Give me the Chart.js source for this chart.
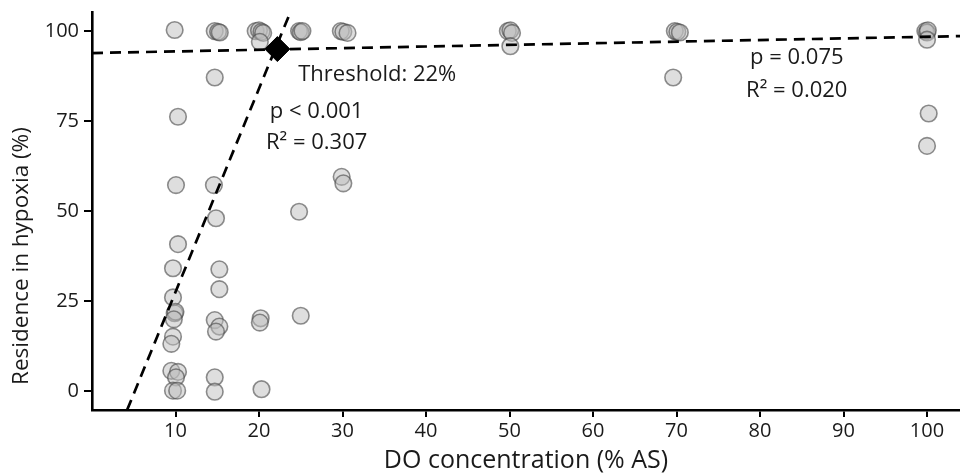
<!DOCTYPE html>
<html>
<head>
<meta charset="utf-8">
<script src="https://cdn.jsdelivr.net/npm/chart.js@4.4.1/dist/chart.umd.min.js"></script>
<style>
  html, body { margin: 0; padding: 0; background: #fff; }
  #wrap { width: 960px; height: 473px; position: relative; }
</style>
</head>
<body>
<div id="wrap"><canvas id="c" width="960" height="473"></canvas></div>
<script>
// ---- data ----
const xTicks = [10, 20, 30, 40, 50, 60, 70, 80, 90, 100];
const yTicks = [0, 25, 50, 75, 100];

// DO concentration (% AS) per observation
const doConc = [
  9.9, 10.3, 14.7,
  14.7, 15.1, 15.3,
  19.6, 20.0, 20.3, 20.5, 20.1,
  24.8, 25.0, 25.2,
  29.8, 30.1, 30.6,
  49.8, 50.1, 50.3, 50.1,
  69.8, 70.1, 70.4, 69.6,
  99.8, 100.0, 100.1, 100.0, 100.2, 100.0,
  10.06, 14.6, 14.85, 29.9, 30.1, 24.8, 10.3, 9.7, 15.25, 15.25,
  9.7, 9.9, 10.0, 9.8, 14.7, 15.25, 14.85, 20.2, 20.1, 25.0,
  9.7, 9.5, 9.5, 10.3, 10.06, 14.7, 9.7, 10.2, 14.7, 20.3
];
// Residence in hypoxia (%) per observation
const hypoxia = [
  100.3, 76.2, 87.1,
  100.0, 99.8, 99.6,
  100.0, 100.2, 99.8, 99.5, 97.0,
  100.0, 99.7, 100.0,
  100.0, 99.8, 99.5,
  100.0, 100.2, 99.5, 95.8,
  100.0, 99.8, 99.6, 87.1,
  100.0, 99.6, 100.2, 97.6, 77.1, 68.1,
  57.2, 57.2, 48.0, 59.5, 57.7, 49.8, 40.8, 34.1, 33.8, 28.3,
  26.0, 21.6, 22.0, 19.9, 19.7, 17.9, 16.5, 20.2, 19.0, 20.9,
  15.1, 13.1, 5.6, 5.3, 3.8, 3.8, 0.1, 0.1, -0.2, 0.5
];

// fitted segmented regression lines (endpoints)
const steepFitX = [4.2, 23.8];
const steepFitY = [-5.3, 105.5];
const flatFitX = [0, 104];
const flatFitY = [93.9, 98.6];
// breakpoint
const thresholdX = [22.2];
const thresholdY = [95.0];

const toXY = (xs, ys) => xs.map((x, i) => ({ x: x, y: ys[i] }));

// ---- annotations (data coordinates) ----
const annotations = [
  { text: 'Threshold: 22%', x: 24.7, y: 87.9, align: 'left' },
  { text: 'p < 0.001', x: 26.9, y: 77.5, align: 'center' },
  { text: 'R\u00B2 = 0.307', x: 26.9, y: 69.0, align: 'center' },
  { text: 'p = 0.075', x: 84.4, y: 92.6, align: 'center' },
  { text: 'R\u00B2 = 0.020', x: 84.4, y: 83.5, align: 'center' }
];
const yTitle = 'Residence in hypoxia (%)';

const FONT = "'Open Sans', 'Noto Sans', sans-serif";
const INK = '#1a1a1a';

const annotPlugin = {
  id: 'annot',
  afterDatasetsDraw(chart) {
    const ctx = chart.ctx;
    const xs = chart.scales.x, ys = chart.scales.y;
    ctx.save();
    ctx.fillStyle = INK;
    ctx.font = "22px " + FONT;
    ctx.textBaseline = 'middle';
    annotations.forEach(a => {
      ctx.textAlign = a.align;
      ctx.fillText(a.text, xs.getPixelForValue(a.x), ys.getPixelForValue(a.y));
    });
    ctx.restore();
  },
  afterDraw(chart) {
    // y-axis title, set slightly below the axis centre as in the original figure
    const ctx = chart.ctx;
    const ys = chart.scales.y;
    ctx.save();
    ctx.fillStyle = INK;
    ctx.font = "22.5px " + FONT;
    ctx.textAlign = 'center';
    ctx.textBaseline = 'middle';
    ctx.translate(22, ys.getPixelForValue(37.5));
    ctx.rotate(-Math.PI / 2);
    ctx.fillText(yTitle, 0, 0);
    ctx.restore();
  }
};

new Chart(document.getElementById('c'), {
  type: 'scatter',
  data: {
    datasets: [
      {
        label: 'Threshold',
        data: toXY(thresholdX, thresholdY),
        pointStyle: 'rectRot',
        pointRadius: 12.5,
        backgroundColor: '#000',
        borderColor: '#000',
        borderWidth: 1,
        order: 0
      },
      {
        label: 'Steep fit',
        type: 'line',
        data: toXY(steepFitX, steepFitY),
        borderColor: '#000',
        borderWidth: 2.7,
        borderDash: [11, 7],
        pointRadius: 0,
        fill: false,
        order: 1
      },
      {
        label: 'Flat fit',
        type: 'line',
        data: toXY(flatFitX, flatFitY),
        borderColor: '#000',
        borderWidth: 2.7,
        borderDash: [11, 7],
        pointRadius: 0,
        fill: false,
        order: 2
      },
      {
        label: 'Observations',
        data: toXY(doConc, hypoxia),
        pointRadius: 8.3,
        pointStyle: 'circle',
        backgroundColor: 'rgba(190,190,190,0.5)',
        borderColor: 'rgba(70,70,70,0.6)',
        borderWidth: 1.6,
        order: 3
      }
    ]
  },
  options: {
    responsive: false,
    animation: false,
    events: [],
    layout: { autoPadding: false, padding: { top: 12, right: 0, left: 0, bottom: 0 } },
    plugins: {
      legend: { display: false },
      tooltip: { enabled: false }
    },
    scales: {
      x: {
        type: 'linear',
        min: 0,
        max: 103.95,
        afterBuildTicks: s => { s.ticks = xTicks.map(v => ({ value: v })); },
        afterFit: s => { s.height = 63; s.paddingLeft = 0; s.paddingRight = 0; },
        ticks: { color: INK, font: { family: FONT, size: 20 }, padding: 2, maxRotation: 0 },
        grid: { drawOnChartArea: false, drawTicks: true, tickLength: 7, color: '#000', lineWidth: 2 },
        border: { display: true, color: '#000', width: 2.6 },
        title: {
          display: true, text: 'DO concentration (% AS)', color: INK,
          font: { family: FONT, size: 25, lineHeight: 1.0 }, padding: { top: 0, bottom: 0 }
        }
      },
      y: {
        type: 'linear',
        min: -5.28,
        max: 105.3,
        afterBuildTicks: s => { s.ticks = yTicks.map(v => ({ value: v })); },
        afterFit: s => { s.width = 92; s.paddingTop = 0; s.paddingBottom = 0; },
        ticks: { color: INK, font: { family: FONT, size: 20 }, padding: 5 },
        grid: { drawOnChartArea: false, drawTicks: true, tickLength: 8, color: '#000', lineWidth: 2 },
        border: { display: true, color: '#000', width: 2.6 },
        title: { display: false }
      }
    }
  },
  plugins: [annotPlugin]
});
</script>
</body>
</html>
